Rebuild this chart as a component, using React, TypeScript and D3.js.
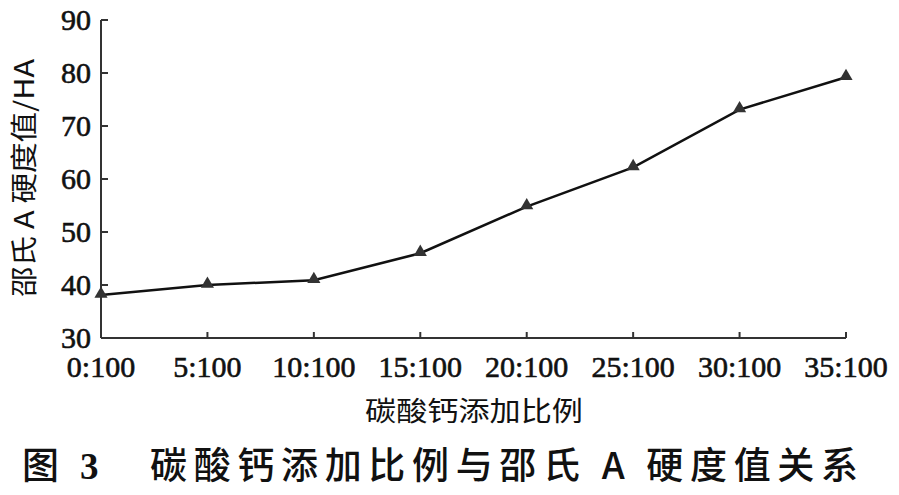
import React from "react";
import * as d3 from "d3";

const categories = ["0:100", "5:100", "10:100", "15:100", "20:100", "25:100", "30:100", "35:100"];
const hardness = [38.1, 40, 40.9, 46, 54.8, 62.2, 73.1, 79.2];
const yTicks = [30, 40, 50, 60, 70, 80, 90];
const xTitle = "碳酸钙添加比例";
const yTitle = "邵氏 A 硬度值/HA";
const caption = "碳酸钙添加比例与邵氏 A 硬度值关系";

const W = 899;
const H = 495;
const serif = "'Liberation Serif', 'DejaVu Serif', serif";
const cjk = "'Noto Sans CJK SC', 'Liberation Serif', sans-serif";

export default function App() {
  const x = d3.scalePoint<string>().domain(categories).range([101, 846]);
  const y = d3.scaleLinear().domain([30, 90]).range([338, 20]);
  const line = d3
    .line<number>()
    .x((_, i) => x(categories[i]) as number)
    .y((d) => y(d));
  const tri = d3.symbol().type(d3.symbolTriangle).size(75)();

  return (
    <svg
      width={W}
      height={H}
      style={{ position: "absolute", left: 0, top: 0, background: "#fff" }}
    >
      {/* axes */}
      <line x1={101} x2={101} y1={y(90)} y2={y(30)} stroke="#333" strokeWidth={2} />
      <line x1={101} x2={846} y1={y(30)} y2={y(30)} stroke="#333" strokeWidth={2} />
      {yTicks.map((t) => (
        <g key={t}>
          <line x1={101} x2={108} y1={y(t)} y2={y(t)} stroke="#333" strokeWidth={2} />
          <text
            x={91}
            y={y(t) + 10}
            textAnchor="end"
            fontFamily={serif}
            fontSize={30}
            fill="#111"
            stroke="#111"
            strokeWidth={0.6}
          >
            {t}
          </text>
        </g>
      ))}
      {categories.map((c) => (
        <g key={c}>
          <line
            x1={x(c) as number}
            x2={x(c) as number}
            y1={y(30)}
            y2={y(30) - 6}
            stroke="#333"
            strokeWidth={2}
          />
          <text
            x={x(c) as number}
            y={377}
            textAnchor="middle"
            fontFamily={serif}
            fontSize={30}
            fill="#111"
            stroke="#111"
            strokeWidth={0.6}
          >
            {c}
          </text>
        </g>
      ))}
      {/* data */}
      <path d={line(hardness) || ""} fill="none" stroke="#111" strokeWidth={2.5} />
      {hardness.map((v, i) => (
        <path
          key={i}
          d={tri || ""}
          transform={`translate(${x(categories[i])},${y(v) - 1})`}
          fill="#333"
        />
      ))}
      {/* titles */}
      <text
        transform={`translate(34,178) rotate(-90)`}
        textAnchor="middle"
        fontFamily={cjk}
        fontSize={27}
        fill="#111"
        textLength={238}
        lengthAdjust="spacingAndGlyphs"
      >
        {yTitle}
      </text>
      <text
        x={474}
        y={421}
        textAnchor="middle"
        fontFamily={cjk}
        fontSize={27}
        fill="#111"
        textLength={218}
        lengthAdjust="spacingAndGlyphs"
      >
        {xTitle}
      </text>
      <text x={22} y={479} fontFamily={cjk} fontSize={37} fill="#111" fontWeight={500}>
        图
      </text>
      <text x={80} y={479} fontFamily={serif} fontSize={37} fill="#111" fontWeight={700}>
        3
      </text>
      <text
        x={150}
        y={479}
        fontFamily={cjk}
        fontSize={37}
        fill="#111"
        fontWeight={500}
        textLength={708}
        lengthAdjust="spacing"
      >
        {caption}
      </text>
    </svg>
  );
}
